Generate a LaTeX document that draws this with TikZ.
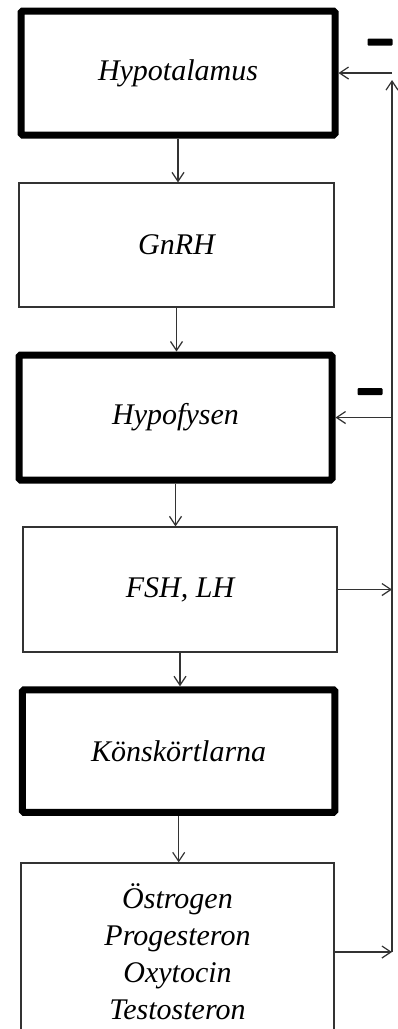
\documentclass[tikz,border=0pt]{standalone}
\usepackage{fontspec}
\setmainfont{Liberation Serif}
\usepackage{tikz}
\usetikzlibrary{arrows.meta,calc}
\definecolor{lineCol}{HTML}{333333}
\tikzset{
  organ/.style={draw=black, line width=7pt, rounded corners=1.5pt, fill=white, inner sep=0pt,
                font=\fontsize{30}{37}\selectfont\itshape, align=center},   % gland (thick frame)
  hormone/.style={draw=lineCol, line width=1.2pt, fill=white, inner sep=0pt,
                  font=\fontsize{30}{37}\selectfont\itshape, align=center}, % hormone (thin frame)
  flow/.style={-{Straight Barb[length=9pt,width=12pt]}, lineCol, line width=1.2pt},
  minus/.style={fill=black, rounded corners=1pt, inner sep=0pt, minimum width=25pt, minimum height=7pt},
}
\begin{document}
\begin{tikzpicture}[x=1pt,y=-1pt]
  \clip (0,0) rectangle (398,1029);
  \fill[white] (0,0) rectangle (398,1029);
  \def\F{392}

  \node[organ,   minimum width=314pt, minimum height=124pt]   (b1) at (178,73)    {Hypotalamus};
  \node[hormone, minimum width=315pt, minimum height=124pt]   (b2) at (176.5,245) {GnRH};
  \node[organ,   minimum width=313pt, minimum height=125pt]   (b3) at (175.5,417.5) {Hypofysen};
  \node[hormone, minimum width=314pt, minimum height=125pt]   (b4) at (180,589.5) {FSH, LH};
  \node[organ,   minimum width=312.5pt, minimum height=122.5pt] (b5) at (178.7,751) {Könskörtlarna};
  \node[hormone, minimum width=313pt, minimum height=178pt]   (b6) at (177.5,952)
    {Östrogen\\Progesteron\\Oxytocin\\Testosteron};

  \node[minus] (m1) at (380,42) {};
  \node[minus] (m2) at (370,391.5) {};

  % main chain
  \foreach \a/\b in {b1/b2,b2/b3,b3/b4,b4/b5,b5/b6}{
    \draw[flow] (\a.south) -- (\a.south |- \b.north);
  }

  % feedback loop
  \coordinate (fbtop) at (\F,80);
  \coordinate (fbbot) at (b6.east -| fbtop);
  \draw[flow] (b6.east) -- (fbbot);
  \draw[flow] (b4.east) -- (b4.east -| fbtop);
  \draw[flow] (fbbot) -- (fbtop);
  \draw[flow] (b1.east -| fbtop) -- (b1.east);
  \draw[flow] (b3.east -| fbtop) -- (b3.east);
\end{tikzpicture}
\end{document}
